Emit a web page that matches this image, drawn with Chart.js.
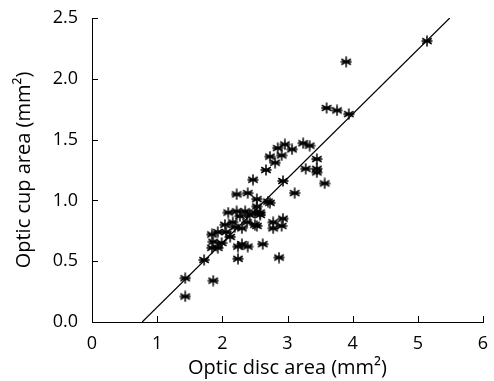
<!DOCTYPE html>
<html lang="en">
<head>
<meta charset="utf-8">
<title>Optic cup vs disc area</title>
<script src="https://cdn.jsdelivr.net/npm/chart.js"></script>
<style>
  html, body { margin: 0; padding: 0; background: #fff; }
  #wrap { width: 494px; height: 381px; }
</style>
</head>
<body>
<div id="wrap"><canvas id="scatterChart" width="494" height="381"></canvas></div>
<script>
  // values
  const discArea = [
    1.43, 1.43, 1.86, 1.72, 1.84, 1.93, 2.12, 1.86, 1.99, 1.84,
    1.93, 2.24, 2.39, 2.24, 2.04, 2.16, 2.19, 2.38, 2.50, 2.09,
    2.22, 2.35, 2.27, 2.50, 2.22, 2.39, 2.53, 2.47, 2.87, 2.62,
    2.78, 2.78, 2.91, 2.93, 2.58, 2.70, 2.53, 3.11, 2.93, 2.67,
    2.81, 2.73, 2.91, 2.85, 2.96, 3.07, 3.24, 3.34, 3.45, 3.28,
    3.45, 3.45, 3.57, 3.60, 3.76, 3.94, 3.90, 5.14, 2.73, 2.42,
    2.58, 2.53, 2.30, 2.06, 2.30
  ];
  const cupArea = [
    0.36, 0.21, 0.34, 0.51, 0.72, 0.74, 0.70, 0.66, 0.65, 0.61,
    0.61, 0.62, 0.62, 0.52, 0.80, 0.82, 0.78, 0.82, 0.80, 0.90,
    0.91, 0.91, 0.87, 0.90, 1.05, 1.06, 1.01, 1.17, 0.53, 0.64,
    0.82, 0.77, 0.79, 0.85, 0.88, 0.99, 0.95, 1.06, 1.16, 1.25,
    1.31, 1.36, 1.37, 1.43, 1.46, 1.42, 1.47, 1.45, 1.34, 1.26,
    1.26, 1.23, 1.14, 1.76, 1.74, 1.71, 2.14, 2.31, 0.98, 0.88,
    0.90, 0.79, 0.64, 0.74, 0.77
  ];
  // regression line end points (x, y)
  const fitX = [0.77, 5.49];
  const fitY = [0.0, 2.5];
  const xTicks = [0, 1, 2, 3, 4, 5, 6];
  const yTicks = [0.0, 0.5, 1.0, 1.5, 2.0, 2.5];

  const fontFamily = '"Open Sans", "Liberation Sans", sans-serif';

  // asterisk marker
  function makeAsterisk(size) {
    const c = document.createElement('canvas');
    c.width = size; c.height = size;
    const g = c.getContext('2d');
    const r = size / 2 - 0.5;
    g.strokeStyle = '#000';
    g.lineWidth = 1.5;
    g.beginPath();
    for (let k = 0; k < 3; k++) {
      const a = Math.PI / 2 + k * Math.PI / 3;
      g.moveTo(size / 2 + r * Math.cos(a), size / 2 + r * Math.sin(a));
      g.lineTo(size / 2 - r * Math.cos(a), size / 2 - r * Math.sin(a));
    }
    g.moveTo(size / 2 - r, size / 2);
    g.lineTo(size / 2 + r, size / 2);
    g.stroke();
    return c;
  }
  const asterisk = makeAsterisk(12);

  // ticks drawn inwards from the axis lines
  const inwardTicks = {
    id: 'inwardTicks',
    afterDraw(chart) {
      const ctx = chart.ctx;
      const xs = chart.scales.x, ys = chart.scales.y;
      const area = chart.chartArea;
      ctx.save();
      ctx.strokeStyle = '#000';
      ctx.lineWidth = 1;
      ctx.beginPath();
      xTicks.forEach(v => {
        const px = Math.round(xs.getPixelForValue(v)) + 0.5;
        ctx.moveTo(px, area.bottom);
        ctx.lineTo(px, area.bottom - 6);
      });
      yTicks.forEach(v => {
        const py = Math.round(ys.getPixelForValue(v)) + 0.5;
        ctx.moveTo(area.left, py);
        ctx.lineTo(area.left + 6, py);
      });
      ctx.stroke();
      ctx.restore();
    }
  };

  new Chart(document.getElementById('scatterChart'), {
    type: 'scatter',
    data: {
      datasets: [
        {
          data: discArea.map((x, i) => ({ x: x, y: cupArea[i] })),
          pointStyle: asterisk,
          pointRadius: 6
        },
        {
          type: 'line',
          data: fitX.map((x, i) => ({ x: x, y: fitY[i] })),
          borderColor: '#000',
          borderWidth: 1.2,
          pointRadius: 0,
          fill: false
        }
      ]
    },
    plugins: [inwardTicks],
    options: {
      responsive: false,
      animation: false,
      layout: { padding: { left: 0, right: 11, top: 18, bottom: 0 } },
      plugins: { legend: { display: false }, tooltip: { enabled: false } },
      scales: {
        x: {
          type: 'linear',
          min: 0, max: 6,
          afterFit(scale) { scale.height = 59; },
          afterBuildTicks(scale) { scale.ticks = xTicks.map(v => ({ value: v })); },
          grid: { display: false },
          border: { color: '#000', width: 1 },
          ticks: {
            color: '#000', padding: 3,
            font: { family: fontFamily, size: 18 },
            callback: v => String(v)
          },
          title: {
            display: true, text: 'Optic disc area (mm\u00B2)', color: '#000',
            font: { family: fontFamily, size: 20 },
            padding: { top: 0, bottom: 1 }
          }
        },
        y: {
          type: 'linear',
          min: 0, max: 2.5,
          afterFit(scale) { scale.width = 92; },
          afterBuildTicks(scale) { scale.ticks = yTicks.map(v => ({ value: v })); },
          grid: { display: false },
          border: { color: '#000', width: 1 },
          ticks: {
            color: '#000', padding: 6,
            font: { family: fontFamily, size: 18 },
            callback: v => v.toFixed(1)
          },
          title: {
            display: true, text: 'Optic cup area (mm\u00B2)', color: '#000',
            font: { family: fontFamily, size: 20 },
            padding: { top: 12, bottom: 0 }
          }
        }
      }
    }
  });
</script>
</body>
</html>
